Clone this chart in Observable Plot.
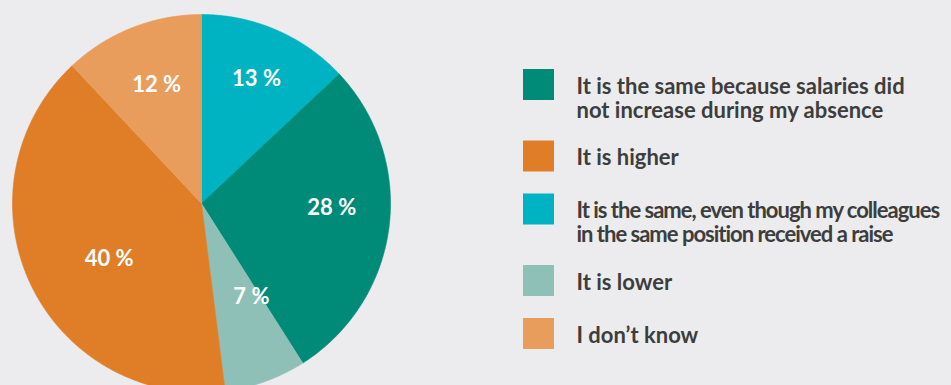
<!DOCTYPE html>
<html>
<head>
<meta charset="utf-8">
<script src="https://cdn.jsdelivr.net/npm/d3@7"></script>
<script src="https://cdn.jsdelivr.net/npm/@observablehq/plot@0.6"></script>
<style>
  html, body { margin: 0; padding: 0; background: #ececee; }
  #chart svg { display: block; background: #ececee; }
</style>
</head>
<body>
<div id="chart"></div>
<script>
// Pie slices, clockwise from 12 o'clock
const categories = [
  "It is the same, even though my colleagues in the same position received a raise",
  "It is the same because salaries did not increase during my absence",
  "It is lower",
  "It is higher",
  "I don’t know"
];
const values = [13, 28, 7, 40, 12];
const colors = ["#00b3c3", "#008a78", "#8fc0b8", "#e07e27", "#e99d5c"];

// Legend order and wrapped labels
const legendOrder = [1, 3, 0, 2, 4];
const legendLabels = [
  "It is the same because salaries did\nnot increase during my absence",
  "It is higher",
  "It is the same, even though my colleagues\nin the same position received a raise",
  "It is lower",
  "I don’t know"
];

// layout constants (style, not data)
const W = 951, H = 385;
const cx = 201, cy = 203, R = 189;
// label placement within each slice: [fraction of radius, fraction of slice angle]
const labelPlacement = [[0.72, 0.51], [0.69, 0.45], [0.56, 0.17], [0.57, 0.46], [0.67, 0.52]];

const slices = d3.pie().sort(null).value(d => d.value)(
  categories.map((key, i) => ({key, value: values[i]}))
);

const piePoints = [];
for (const s of slices) {
  const key = s.data.key;
  piePoints.push({key, x: cx, y: cy});
  const n = Math.max(2, Math.ceil((s.endAngle - s.startAngle) / (Math.PI / 360)));
  for (let k = 0; k <= n; k++) {
    const a = s.startAngle + (s.endAngle - s.startAngle) * k / n;
    piePoints.push({key, x: cx + R * Math.sin(a), y: cy - R * Math.cos(a)});
  }
  piePoints.push({key, x: cx, y: cy});
}

const sliceLabels = slices.map((s, i) => {
  const [rf, af] = labelPlacement[i];
  const a = s.startAngle + (s.endAngle - s.startAngle) * af;
  return {text: s.data.value + " %", x: cx + rf * R * Math.sin(a), y: cy - rf * R * Math.cos(a)};
});

// legend rows
const legend = [];
let ly = 69;
legendOrder.forEach((ci, i) => {
  const lines = legendLabels[i].split("\n").length;
  legend.push({key: categories[ci], label: legendLabels[i], y: ly});
  ly += 53 + 18.5 * (lines - 1);
});

const chart = Plot.plot({
  width: W,
  height: H,
  margin: 0,
  style: {background: "#ececee", fontFamily: "Lato, 'Open Sans', sans-serif"},
  x: {domain: [0, W], range: [0, W], axis: null},
  y: {domain: [0, H], range: [0, H], axis: null},
  color: {domain: categories, range: colors},
  marks: [
    Plot.line(piePoints, {x: "x", y: "y", z: "key", fill: "key", stroke: "key", strokeWidth: 0.6, curve: "linear"}),
    Plot.text(sliceLabels, {x: "x", y: "y", text: "text", fill: "white", fontSize: 22, fontWeight: 700}),
    Plot.rect(legend, {x1: () => 523, x2: () => 554, y1: d => d.y, y2: d => d.y + 31, fill: "key"}),
    Plot.text(legend, {
      x: () => 576, y: d => d.y + 7.4, text: "label",
      textAnchor: "start", lineAnchor: "top", lineHeight: 24 / 22,
      fontSize: 22, fontWeight: 700, fill: "#3d3d3d"
    })
  ]
});
// condensed tracking on the long legend entry, as in the original
d3.select(chart).selectAll("text")
  .filter(function() { return this.textContent.includes("colleagues"); })
  .attr("letter-spacing", "-1px");
document.getElementById("chart").appendChild(chart);
</script>
</body>
</html>
